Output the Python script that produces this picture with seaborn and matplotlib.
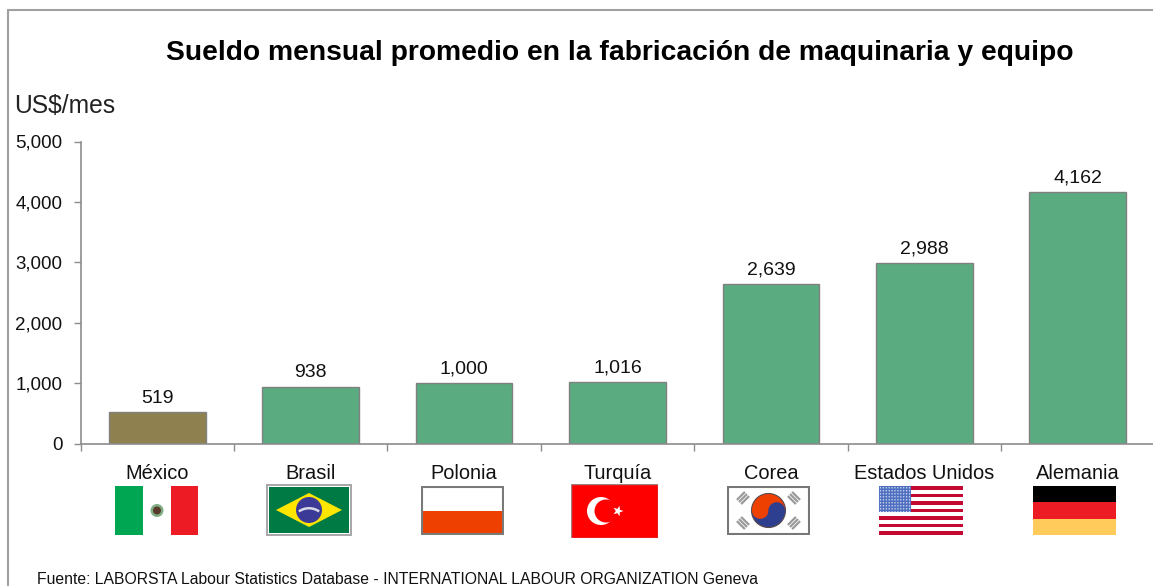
import matplotlib
matplotlib.use('Agg')
import matplotlib.pyplot as plt
from matplotlib.lines import Line2D
from matplotlib.patches import Rectangle, Circle, Polygon, Wedge
import numpy as np
import pandas as pd
import seaborn as sns

paises = ['México', 'Brasil', 'Polonia', 'Turquía', 'Corea', 'Estados Unidos', 'Alemania']
sueldos = [519, 938, 1000, 1016, 2639, 2988, 4162]
colores = ['#8f8050', '#5bab80', '#5bab80', '#5bab80', '#5bab80', '#5bab80', '#5bab80']
y_ticks = [0, 1000, 2000, 3000, 4000, 5000]

W, H = 1153, 586
GRIS = '#8c8c8c'

sns.set_style('white')
plt.rcParams['font.family'] = ['Liberation Sans', 'DejaVu Sans']

df = pd.DataFrame({'pais': paises, 'sueldo': sueldos})

fig = plt.figure(figsize=(W / 100, H / 100), dpi=100, facecolor='white')
ax = fig.add_axes([80.5 / W, 1 - 443.5 / H, 1074 / W, 302 / H])

sns.barplot(data=df, x='pais', y='sueldo', hue='pais', palette=colores, legend=False,
            width=0.63, saturation=1, edgecolor='#808080', linewidth=1, ax=ax)
for c in ax.containers:
    ax.bar_label(c, fmt='{:,.0f}', padding=4, fontsize=14, color='#111111')

ax.set_xlim(-0.5, 6.5)
ax.set_ylim(0, 5000)
ax.set_yticks(y_ticks)
ax.set_yticklabels([f'{v:,}' for v in y_ticks])
ax.set_xticks(np.arange(-0.5, 7), minor=True)
ax.tick_params(axis='x', which='major', length=0, pad=15, labelsize=14.4, labelcolor='#111111')
ax.tick_params(axis='x', which='minor', length=5, width=1, color=GRIS, bottom=True)
ax.tick_params(axis='y', length=5, width=1, color=GRIS, left=True, pad=8, labelsize=13.5, labelcolor='#111111')
ax.set_xlabel('')
ax.set_ylabel('')
ax.patch.set_alpha(0)
for s in ['top', 'right']:
    ax.spines[s].set_visible(False)
for s in ['left', 'bottom']:
    ax.spines[s].set_color(GRIS)
    ax.spines[s].set_linewidth(1.2)

# marco exterior
fig.add_artist(Line2D([8 / W, 8 / W], [0, 1 - 10 / H], color='#a0a0a0', lw=1.5))
fig.add_artist(Line2D([8 / W, 1], [1 - 10 / H, 1 - 10 / H], color='#a0a0a0', lw=1.5))

fig.text(620 / W, 1 - 53 / H, 'Sueldo mensual promedio en la fabricación de maquinaria y equipo',
         ha='center', va='center', fontsize=20.3, fontweight='bold', color='black')
fig.text(14 / W, 1 - 106 / H, 'US$/mes', ha='left', va='center', fontsize=17.7, color='#222222')
fig.text(37 / W, 1 - 579 / H,
         'Fuente: LABORSTA Labour Statistics Database - INTERNATIONAL LABOUR ORGANIZATION Geneva',
         ha='left', va='center', fontsize=11.35, color='#111111')


def flag_ax(x0, y0, x1, y1):
    a = fig.add_axes([x0 / W, 1 - y1 / H, (x1 - x0) / W, (y1 - y0) / H])
    a.set_xlim(0, x1 - x0)
    a.set_ylim(y1 - y0, 0)
    a.axis('off')
    return a, x1 - x0, y1 - y0


def rect(a, x, y, w, h, color, **kw):
    a.add_patch(Rectangle((x, y), w, h, facecolor=color, edgecolor='none', **kw))


# México
a, w, h = flag_ax(115, 486, 198, 535)
rect(a, 0, 0, w, h, 'white')
rect(a, 0, 0, 28, h, '#00a651')
rect(a, 56, 0, w - 56, h, '#ed1c24')
a.add_patch(Circle((42, h / 2), 6.5, facecolor='#7fae84', edgecolor='none'))
a.add_patch(Circle((42, h / 2), 4, facecolor='#5a3a2a', edgecolor='none'))

# Brasil
a, w, h = flag_ax(266, 484, 352, 536)
rect(a, 0, 0, w, h, '#a8a8a8')
rect(a, 2, 2, w - 4, h - 4, 'white')
rect(a, 3, 3, w - 6, h - 6, '#007a45')
a.add_patch(Polygon([(10, h / 2), (w / 2, 9), (w - 10, h / 2), (w / 2, h - 9)], facecolor='#ffe600', edgecolor='none'))
a.add_patch(Circle((w / 2, h / 2), 13, facecolor='#3b3a96', edgecolor='none'))
a.add_patch(Wedge((w / 2, h / 2 + 16), 19, 235, 305, width=2.5, facecolor='#d8d8e8', edgecolor='none'))

# Polonia
a, w, h = flag_ax(421, 486, 504, 535)
rect(a, 0, 0, w, h / 2, 'white')
rect(a, 0, h / 2, w, h / 2, '#ee4000')
a.add_patch(Rectangle((0.8, 0.8), w - 1.6, h - 1.6, fill=False, edgecolor='#7a7a7a', lw=1.5))

# Turquía
a, w, h = flag_ax(571, 484, 658, 538)
rect(a, 0, 0, w, h, '#ff0000')
a.add_patch(Rectangle((0.3, 0.3), w - 0.6, h - 0.6, fill=False, edgecolor='#a08080', lw=1))
a.add_patch(Circle((30, h / 2), 14, facecolor='white', edgecolor='none'))
a.add_patch(Circle((35, h / 2), 11.5, facecolor='#ff0000', edgecolor='none'))
ang = np.deg2rad(np.arange(0, 360, 36))
rad = np.where(np.arange(10) % 2 == 0, 5.5, 2.2)
a.add_patch(Polygon(np.c_[47 + rad * np.cos(ang), h / 2 + rad * np.sin(ang)], facecolor='white', edgecolor='none'))

# Corea
a, w, h = flag_ax(727, 486, 810, 535)
rect(a, 0, 0, w, h, 'white')
a.add_patch(Rectangle((0.8, 0.8), w - 1.6, h - 1.6, fill=False, edgecolor='#777777', lw=1.5))
cx, cy = w / 2, h / 2
a.add_patch(Circle((cx, cy), 17, facecolor='#2f3f8f', edgecolor='#5a4a4a', lw=0.8))
a.add_patch(Wedge((cx, cy), 16.5, 180, 360, facecolor='#ee4000', edgecolor='none'))
a.add_patch(Circle((cx - 8.2, cy), 8.3, facecolor='#ee4000', edgecolor='none'))
a.add_patch(Circle((cx + 8.2, cy), 8.3, facecolor='#2f3f8f', edgecolor='none'))
for tx, ty, rot in [(16, 12, 1), (w - 16, 12, -1), (16, h - 12, -1), (w - 16, h - 12, 1)]:
    for d in [-3, 0, 3]:
        a.plot([tx - 4 * rot + d * rot * 0.7, tx + 4 * rot + d * rot * 0.7],
               [ty + 4 + d * 0.7, ty - 4 + d * 0.7], color='#9a9a9a', lw=1.6, solid_capstyle='butt')

# Estados Unidos
a, w, h = flag_ax(879, 486, 963, 535)
rect(a, 0, 0, w, h, 'white')
for i in range(0, 13, 2):
    rect(a, 0, i * h / 13, w, h / 13, '#c40a32')
rect(a, 0, 0, w * 0.38, h * 7 / 13, '#4f6fc0')
for i in range(9):
    for j in range(11):
        a.add_patch(Circle((1.5 + j * 2.9, 1.8 + i * 3), 0.7, facecolor='#dfe6f5', edgecolor='none'))

# Alemania
a, w, h = flag_ax(1033, 486, 1116, 535)
rect(a, 0, 0, w, h / 3, 'black')
rect(a, 0, h / 3, w, h / 3, '#ed1c24')
rect(a, 0, 2 * h / 3, w, h / 3, '#ffcc5c')

fig.savefig('out.png', dpi=100)
